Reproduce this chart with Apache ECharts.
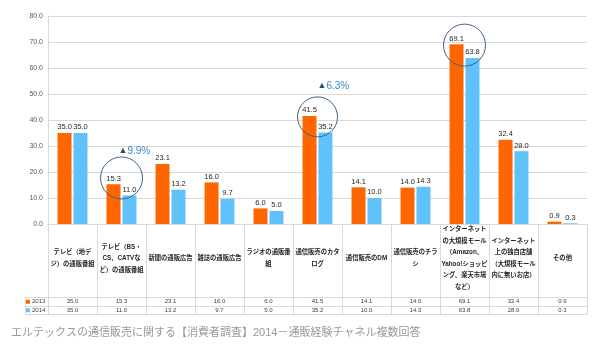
<!DOCTYPE html>
<html><head><meta charset="utf-8">
<script src="https://cdn.jsdelivr.net/npm/echarts@6/dist/echarts.min.js"></script>
<style>html,body{margin:0;padding:0;background:#fff}#c{width:604px;height:346px}</style>
</head><body><div id="c"></div>
<script>
const categories = [
  'テレビ（地デ\nジ）の通販番組',
  'テレビ（BS・\nCS、CATVな\nど）の通販番組',
  '新聞の通販広告',
  '雑誌の通販広告',
  'ラジオの通販番\n組',
  '通信販売のカタ\nログ',
  '通信販売のDM',
  '通信販売のチラ\nシ',
  'インターネット\nの大規模モール\n（Amazon、\nYahoo!ショッピ\nング、楽天市場\nなど）',
  'インターネット\n上の独自店舗\n（大規模モール\n内に無いお店）',
  'その他'
];
const seriesNames = ['2013', '2014'];
const values2013 = [35.0, 15.3, 23.1, 16.0, 6.0, 41.5, 14.1, 14.0, 69.1, 32.4, 0.9];
const values2014 = [35.0, 11.0, 13.2, 9.7, 5.0, 35.2, 10.0, 14.3, 63.8, 28.0, 0.3];
const yTickLabels = ['0.0','10.0','20.0','30.0','40.0','50.0','60.0','70.0','80.0'];
const highlightCats = [1, 5, 8];
const highlightTexts = ['9.9%', '6.3%', '5.3%'];
const caption = 'エルテックスの通信販売に関する【消費者調査】2014－通販経験チャネル複数回答';

const FONT = '"Liberation Sans", "Noto Sans CJK JP", sans-serif';
const GRID_C = '#d9d9d9';
const ORANGE = '#ff6600';
const BLUE = '#61c1fa';

const circleY = [17.7, 41.2, 68.8];
const textY = [28.1, 53.1, 80.4];
const textOffset = [-3, 0, 0];
const SHIFT = 8; // from the orange bar centre to the category centre

const markData = [];
highlightCats.forEach((c, i) => {
  markData.push({
    coord: [c, circleY[i]], symbol: 'circle', symbolSize: i === 1 ? 40 : 42,
    symbolOffset: [SHIFT, 0],
    itemStyle: {color: 'rgba(0,0,0,0)', borderColor: '#3f6384', borderWidth: 1},
    label: {show: false}
  });
  markData.push({
    coord: [c, textY[i]], symbol: 'circle', symbolSize: 0,
    itemStyle: {color: 'rgba(0,0,0,0)'},
    label: {
      show: true, position: 'right', distance: 0, offset: [textOffset[i] + SHIFT, 0],
      formatter: '{a|▲}{b|' + highlightTexts[i] + '}',
      rich: {
        a: {color: '#1f4e79', fontSize: 9, fontFamily: FONT},
        b: {color: '#3a86c4', fontSize: 10, fontFamily: FONT}
      }
    }
  });
});

function rowAxis(offset, vals, showLabel) {
  return {
    type: 'category', data: categories, position: 'bottom', offset: offset,
    axisLine: {show: true, lineStyle: {color: GRID_C}},
    axisTick: {show: false}, splitLine: {show: false},
    axisLabel: {
      show: showLabel, interval: 0, margin: 4.3, verticalAlign: 'middle',
      fontSize: 6, color: '#404040', fontFamily: FONT,
      formatter: (v, i) => vals ? vals[i].toFixed(1) : ''
    }
  };
}

const chart = echarts.init(document.getElementById('c'), null, {renderer: 'canvas'});
chart.setOption({
  animation: false,
  backgroundColor: '#fff',
  title: {
    text: caption, left: 11, top: 327, padding: 0,
    textStyle: {fontSize: 11, color: '#999999', fontWeight: 'normal', fontFamily: FONT}
  },
  legend: {
    data: seriesNames, orient: 'vertical', left: 26, top: 297.5, padding: 0,
    itemWidth: 4, itemHeight: 4, itemGap: 0, icon: 'rect', selectedMode: false,
    textStyle: {fontSize: 6, color: '#404040', lineHeight: 8.5, fontFamily: FONT, padding: [0, 0, 0, -3]}
  },
  grid: {left: 48, right: 17, top: 16, bottom: 122, containLabel: false},
  xAxis: [
    {
      type: 'category', data: categories, position: 'bottom',
      axisLine: {show: true, lineStyle: {color: GRID_C}},
      axisTick: {show: true, interval: 0, length: 90, lineStyle: {color: GRID_C}},
      axisLabel: {
        interval: 0, margin: 34.5, verticalAlign: 'middle', align: 'center',
        fontSize: 6.3, fontWeight: 'bold', lineHeight: 11.5, color: '#262626', fontFamily: FONT
      }
    },
    rowAxis(73, values2013, true),
    rowAxis(82, values2014, true),
    rowAxis(90, null, false)
  ],
  yAxis: {
    type: 'value', min: 0, max: 80, interval: 10,
    axisLine: {show: true, lineStyle: {color: GRID_C}},
    axisTick: {show: false},
    splitLine: {show: true, lineStyle: {color: GRID_C}},
    axisLabel: {
      margin: 5, fontSize: 7, color: '#595959', fontFamily: FONT,
      formatter: (v) => yTickLabels[Math.round(v / 10)]
    }
  },
  graphic: [
    {type: 'line', shape: {x1: 25.5, y1: 297, x2: 25.5, y2: 315}, style: {stroke: GRID_C, lineWidth: 1}},
    {type: 'line', shape: {x1: 25, y1: 297.5, x2: 48, y2: 297.5}, style: {stroke: GRID_C, lineWidth: 1}},
    {type: 'line', shape: {x1: 25, y1: 306.5, x2: 48, y2: 306.5}, style: {stroke: GRID_C, lineWidth: 1}},
    {type: 'line', shape: {x1: 25, y1: 314.5, x2: 48, y2: 314.5}, style: {stroke: GRID_C, lineWidth: 1}}
  ],
  series: [
    {
      name: seriesNames[0], type: 'bar', data: values2013, barWidth: 14, barGap: '14%',
      itemStyle: {color: ORANGE},
      label: {show: true, position: 'top', distance: 2, fontSize: 7.5, color: '#262626', fontFamily: FONT,
        formatter: (p) => p.value.toFixed(1)},
      markPoint: {data: markData, z: 10, silent: true}
    },
    {
      name: seriesNames[1], type: 'bar', data: values2014, barWidth: 14, barGap: '14%',
      itemStyle: {color: BLUE},
      label: {show: true, position: 'top', distance: 2, fontSize: 7.5, color: '#262626', fontFamily: FONT,
        formatter: (p) => p.value.toFixed(1)}
    }
  ]
});
</script>
</body></html>
